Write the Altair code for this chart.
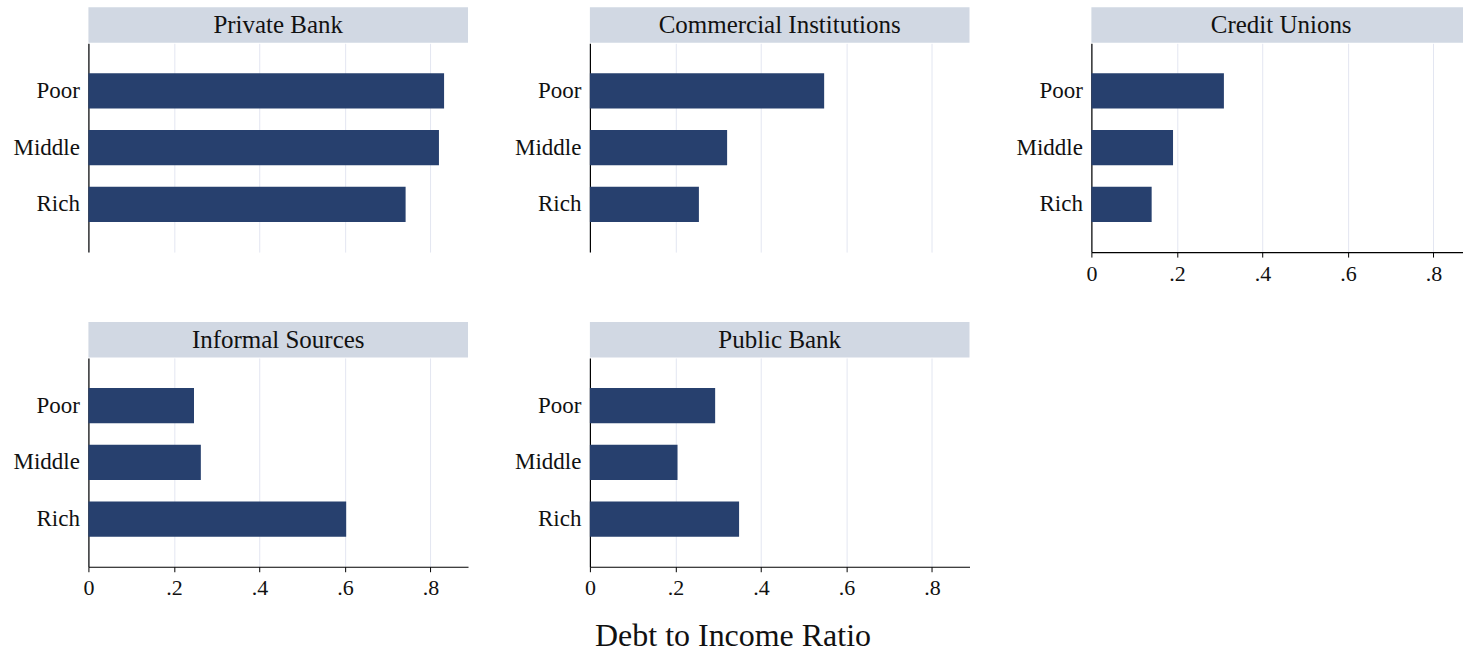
import altair as alt
import pandas as pd

# ---- data ----
sources = ["Private Bank", "Commercial Institutions", "Credit Unions",
           "Informal Sources", "Public Bank"]
groups = ["Poor", "Middle", "Rich"]
poor = [0.832, 0.548, 0.310, 0.247, 0.293]
middle = [0.820, 0.321, 0.191, 0.263, 0.205]
rich = [0.742, 0.255, 0.141, 0.603, 0.349]
tick_values = [0, 0.2, 0.4, 0.6, 0.8]

FONT = "Liberation Serif"
BAR = "#27406E"
STRIP = "#D1D8E3"
GRID = "#E3E6F1"
XMAX = 0.888
W = 380
W3 = 372
H_HEAD = 35.5
H_BODY = 209

rows = []
for i, s in enumerate(sources):
    for g, vals in zip(groups, [poor, middle, rich]):
        rows.append({"source": s, "group": g, "ratio": vals[i]})
df = pd.DataFrame(rows)

LABEL_EXPR = "datum.value == 0 ? '0' : slice(format(datum.value, '.1f'), 1)"


def panel(i, show_axis, width=W, dx=0):
    s = sources[i]
    xmax = XMAX * width / W
    head_df = pd.DataFrame({"title": [s], "group": ["Middle"]})
    header = alt.Chart(head_df).mark_text(
        font=FONT, fontSize=25, color="#111111", baseline="middle", dx=dx
    ).encode(
        text="title:N",
        y=alt.Y("group:N", scale=alt.Scale(domain=["Middle"]),
                axis=alt.Axis(title=None, labelOpacity=0, ticks=False,
                              domain=False, grid=False, labelPadding=9)),
    ).properties(width=width, height=H_HEAD,
                 view=alt.ViewBackground(fill=STRIP, strokeWidth=0))

    if show_axis:
        xaxis = alt.Axis(title=None, values=tick_values, labelExpr=LABEL_EXPR,
                         ticks=True, tickSize=5, tickColor="black",
                         domain=True, domainColor="black", domainWidth=1.2,
                         grid=True, gridColor=GRID, labelPadding=6,
                         labelFlush=False, labelFontSize=22)
    else:
        xaxis = alt.Axis(title=None, values=tick_values, labels=False,
                         ticks=False, domain=False, grid=True, gridColor=GRID)

    body = alt.Chart(df[df.source == s]).mark_bar(color=BAR).encode(
        x=alt.X("ratio:Q", scale=alt.Scale(domain=[0, xmax], nice=False, zero=True),
                axis=xaxis),
        y=alt.Y("group:N", sort=groups,
                scale=alt.Scale(paddingInner=0.38, paddingOuter=0.53),
                axis=alt.Axis(title=None, ticks=False, domain=True,
                              domainColor="black", domainWidth=1.2,
                              grid=False, labelPadding=9)),
    ).properties(width=width, height=H_BODY)
    return alt.vconcat(header, body, spacing=0)


row1 = alt.hconcat(panel(0, False), panel(1, False), panel(2, True, W3, dx=4), spacing=46)
row2 = alt.hconcat(panel(3, True), panel(4, True), spacing=46)

chart = alt.vconcat(row1, row2, spacing=38).properties(
    title=alt.TitleParams("Debt to Income Ratio", orient="bottom", anchor="middle",
                          fontSize=32, font=FONT, fontWeight="normal",
                          color="#111111", offset=22, dx=-5),
    padding={"left": 12.5, "top": 7, "right": 0, "bottom": 0},
).configure_view(strokeWidth=0).configure_axis(
    labelFont=FONT, labelFontSize=23, labelColor="#111111"
).configure_concat(spacing=0)

chart.save("out.html", embed_options={"renderer": "svg", "actions": False})
